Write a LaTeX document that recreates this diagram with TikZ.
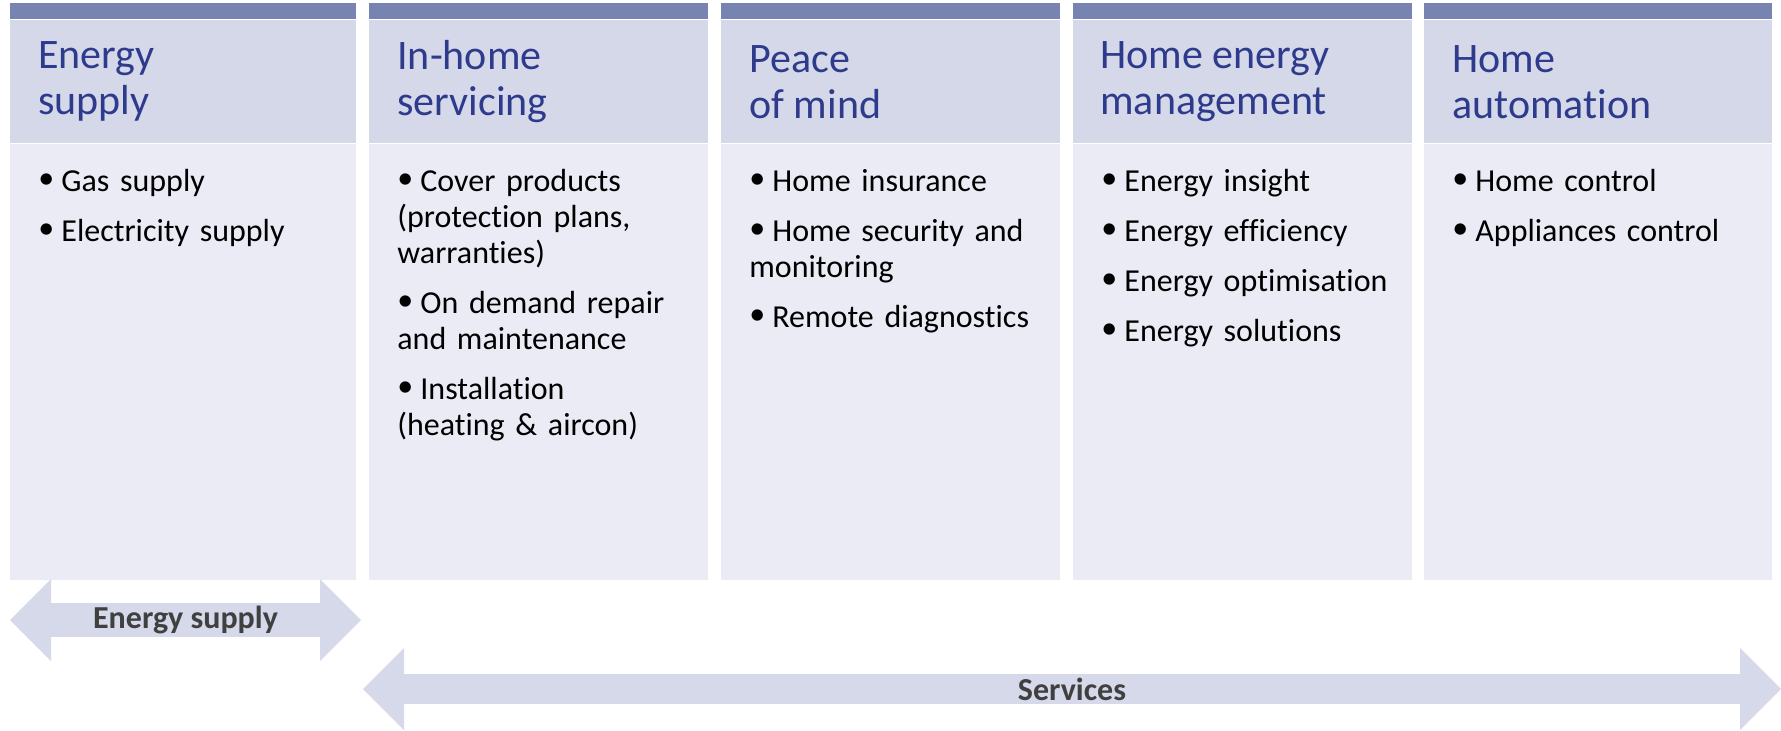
\documentclass[tikz,border=0pt]{standalone}
\usepackage{fontspec}
\setmainfont{Carlito}[Ligatures=NoCommon]
\usepackage{tikz}
\usetikzlibrary{positioning, shapes.arrows}
\usepackage{xcolor}

\definecolor{barblue}{HTML}{7783B1}
\definecolor{hdrfill}{HTML}{D5D8E9}
\definecolor{bodyfill}{HTML}{EAEBF5}
\definecolor{arrowfill}{HTML}{D5D9EA}
\definecolor{titleblue}{HTML}{2E3A8C}
\definecolor{lbltext}{HTML}{404040}

\newcommand{\itm}[1]{\par\hangindent=11.5pt\hangafter=1\noindent\makebox[11.5pt][l]{\raisebox{1.5pt}{\textbullet}}#1\par\vspace{7pt}}

\begin{document}
\begin{tikzpicture}[
  x=0.5pt, y=-0.5pt,
  bar/.style={fill=barblue, minimum height=8pt, inner sep=0pt, anchor=north west},
  hdr/.style={fill=hdrfill, minimum height=61.5pt, inner sep=0pt},
  body/.style={fill=bodyfill, minimum height=218pt, inner sep=0pt},
  ttl/.style={font=\fontsize{21pt}{23pt}\selectfont, text=titleblue, align=left, inner sep=0pt},
  items/.style={font=\fontsize{16pt}{18pt}\selectfont, text width=155pt, align=left, inner sep=0pt},
  band/.style={double arrow, double arrow tip angle=90, double arrow head extend=10.25pt,
    fill=arrowfill, minimum width=41pt, inner sep=0pt, font=\fontsize{16pt}{19pt}\selectfont\bfseries, text=lbltext}
]
  \useasboundingbox (0,0) rectangle (1781,730);

  % columns
  \node[bar, minimum width=173pt] (bar1) at (10,3) {};
  \node[bar, minimum width=169.5pt] (bar2) at (369,3) {};
  \node[bar, minimum width=169.5pt] (bar3) at (721,3) {};
  \node[bar, minimum width=169.5pt] (bar4) at (1073,3) {};
  \node[bar, minimum width=174pt] (bar5) at (1424,3) {};

  \node[hdr, minimum width=173pt, below=0pt of bar1.south west, anchor=north west] (hdr1) {};
  \node[hdr, minimum width=169.5pt, below=0pt of bar2.south west, anchor=north west] (hdr2) {};
  \node[hdr, minimum width=169.5pt, below=0pt of bar3.south west, anchor=north west] (hdr3) {};
  \node[hdr, minimum width=169.5pt, below=0pt of bar4.south west, anchor=north west] (hdr4) {};
  \node[hdr, minimum width=174pt, below=0pt of bar5.south west, anchor=north west] (hdr5) {};

  \node[body, minimum width=173pt, below=0pt of hdr1.south west, anchor=north west] (body1) {};
  \node[body, minimum width=169.5pt, below=0pt of hdr2.south west, anchor=north west] (body2) {};
  \node[body, minimum width=169.5pt, below=0pt of hdr3.south west, anchor=north west] (body3) {};
  \node[body, minimum width=169.5pt, below=0pt of hdr4.south west, anchor=north west] (body4) {};
  \node[body, minimum width=174pt, below=0pt of hdr5.south west, anchor=north west] (body5) {};

  % titles
  \node[ttl, right=14pt of hdr1.west] (ttl1) {Energy\\supply};
  \node[ttl, right=14pt of hdr2.west] (ttl2) {In-home\\servicing};
  \node[ttl, right=14pt of hdr3.west] (ttl3) {Peace\\of mind};
  \node[ttl, right=13.5pt of hdr4.west] (ttl4) {Home energy\\management};
  \node[ttl, right=14pt of hdr5.west] (ttl5) {Home\\automation};

  % bullet lists
  \node[items, below right=5.5pt and 14pt of body1.north west] (lst1)
    {\itm{Gas supply}\itm{Electricity supply}};
  \node[items, below right=5.5pt and 14pt of body2.north west] (lst2)
    {\itm{Cover products\\(protection plans,\\warranties)}\itm{On demand repair\\and maintenance}\itm{Installation\\(heating \& aircon)}};
  \node[items, below right=5.5pt and 14pt of body3.north west] (lst3)
    {\itm{Home insurance}\itm{Home security and\\monitoring}\itm{Remote diagnostics}};
  \node[items, below right=5.5pt and 14pt of body4.north west] (lst4)
    {\itm{Energy insight}\itm{Energy efficiency}\itm{Energy optimisation}\itm{Energy solutions}};
  \node[items, below right=5.5pt and 14pt of body5.north west] (lst5)
    {\itm{Home control}\itm{Appliances control}};

  % span arrows
  \node[band, minimum height=175.5pt] (supplyarr) at (185.5,620) {Energy supply};
  \node[band, minimum height=709pt] (servarr) at (1072,689) {Services};
\end{tikzpicture}
\end{document}
